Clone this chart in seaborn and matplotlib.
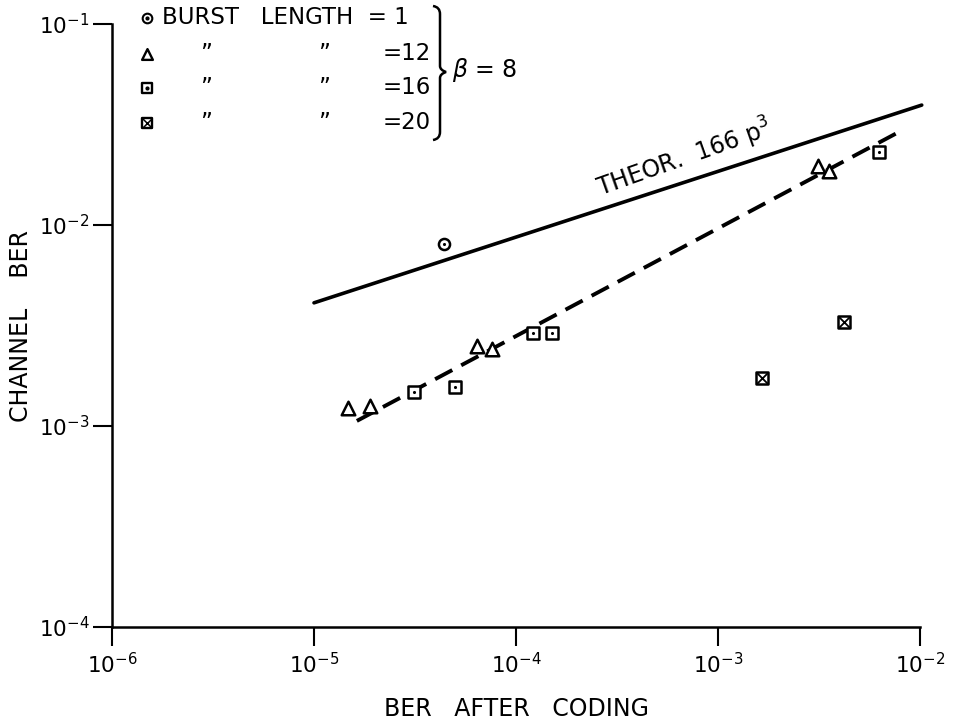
import math
import matplotlib
matplotlib.use("Agg")
import matplotlib.pyplot as plt
from matplotlib.path import Path
from matplotlib.patches import PathPatch
from matplotlib.ticker import FixedLocator, FuncFormatter, NullLocator
import seaborn as sns

# --- data (log-log) ---
burst1_x = [4.4e-5]
burst1_y = [8.0e-3]

burst12_x = [1.47e-5, 1.89e-5, 6.4e-5, 7.6e-5, 3.13e-3, 3.55e-3]
burst12_y = [1.23e-3, 1.26e-3, 2.50e-3, 2.41e-3, 1.97e-2, 1.86e-2]

burst16_x = [3.13e-5, 4.99e-5, 1.21e-4, 1.51e-4, 6.27e-3]
burst16_y = [1.48e-3, 1.56e-3, 2.90e-3, 2.90e-3, 2.31e-2]

burst20_x = [1.65e-3, 4.21e-3]
burst20_y = [1.73e-3, 3.29e-3]

theor_x = [1.0e-5, 1.02e-2]
theor_y = [4.1e-3, 3.95e-2]

fit_x = [1.63e-5, 7.7e-3]
fit_y = [1.06e-3, 2.87e-2]

x_ticks = [1e-6, 1e-5, 1e-4, 1e-3, 1e-2]
y_ticks = [1e-4, 1e-3, 1e-2, 1e-1]

sns.set_style("ticks")
font = ["DejaVu Sans"]
plt.rcParams["font.family"] = font
plt.rcParams["mathtext.fontset"] = "dejavusans"
for k in ["text.color", "axes.labelcolor", "xtick.color", "ytick.color", "axes.edgecolor"]:
    plt.rcParams[k] = "black"

fig = plt.figure(figsize=(9.56, 7.26), dpi=100)
ax = fig.add_axes([112 / 956, 1 - 627 / 726, 808 / 956, 603 / 726])
ax.set_xscale("log")
ax.set_yscale("log")
ax.set_xlim(1e-6, 1e-2)
ax.set_ylim(1e-4, 1e-1)

# lines
sns.lineplot(x=theor_x, y=theor_y, ax=ax, color="black", lw=2.6, clip_on=False)
sns.lineplot(x=fit_x, y=fit_y, ax=ax, color="black", lw=2.8)
ax.lines[-1].set_dashes([5.0, 2.6])

# markers
kw = dict(ax=ax, facecolor="white", edgecolor="black", linewidth=1.8, zorder=5, clip_on=False)
dot = dict(ax=ax, color="black", s=5, zorder=6, linewidth=0, clip_on=False)

sns.scatterplot(x=burst1_x, y=burst1_y, marker="o", s=64, **kw)
sns.scatterplot(x=burst1_x, y=burst1_y, **dot)
sns.scatterplot(x=burst12_x, y=burst12_y, marker="^", s=95, **kw)
sns.scatterplot(x=burst16_x, y=burst16_y, marker="s", s=78, **kw)
sns.scatterplot(x=burst16_x, y=burst16_y, **dot)
sns.scatterplot(x=burst20_x, y=burst20_y, marker="s", s=78, **kw)
ax.scatter(burst20_x, burst20_y, marker="x", s=70, color="black", linewidths=1.3, zorder=6)

# axes styling
sns.despine(ax=ax)
for side in ["left", "bottom"]:
    ax.spines[side].set_linewidth(1.8)
ax.xaxis.set_major_locator(FixedLocator(x_ticks))
ax.yaxis.set_major_locator(FixedLocator(y_ticks))
ax.xaxis.set_minor_locator(NullLocator())
ax.yaxis.set_minor_locator(NullLocator())
fmt = FuncFormatter(lambda v, pos: r"$10^{%d}$" % round(math.log10(v)))
ax.xaxis.set_major_formatter(fmt)
ax.yaxis.set_major_formatter(fmt)
ax.tick_params(axis="both", length=14, width=1.5, labelsize=15.5, pad=2)
ax.tick_params(axis="x", pad=4)

ax.set_xlabel("BER   AFTER   CODING", fontsize=17, labelpad=14)
ax.set_ylabel("CHANNEL    BER", fontsize=17)
ax.yaxis.set_label_coords(-0.098, 0.5)

ax.text(6.8e-4, 2.15e-2, r"THEOR.  166 p$^3$", fontsize=17, rotation=19.5,
        ha="center", va="center", rotation_mode="anchor")

# legend block drawn by hand
rows = [1.01, 0.951, 0.894, 0.836]
sym_x = 0.043
lkw = dict(transform=ax.transAxes, clip_on=False, zorder=5)
ax.scatter([sym_x], [rows[0]], marker="o", s=48, facecolor="white", edgecolor="black",
           linewidth=1.5, **lkw)
ax.scatter([sym_x], [rows[0]], s=4, color="black", **lkw)
ax.scatter([sym_x], [rows[1]], marker="^", s=60, facecolor="white", edgecolor="black",
           linewidth=1.7, **lkw)
ax.scatter([sym_x], [rows[2]], marker="s", s=50, facecolor="white", edgecolor="black",
           linewidth=1.7, **lkw)
ax.scatter([sym_x], [rows[2]], s=4, color="black", **lkw)
ax.scatter([sym_x], [rows[3]], marker="s", s=50, facecolor="white", edgecolor="black",
           linewidth=1.7, **lkw)
ax.scatter([sym_x], [rows[3]], marker="x", s=48, color="black", linewidth=1.1, **lkw)

tkw = dict(transform=ax.transAxes, fontsize=16.5, va="center")
ax.text(0.062, rows[0], "BURST   LENGTH  = 1", ha="left", **tkw)
for r, val in zip(rows[1:], ["=12", "=16", "=20"]):
    ax.text(0.109, r, "\u201d", ha="left", **tkw)
    ax.text(0.255, r, "\u201d", ha="left", **tkw)
    ax.text(0.395, r, val, ha="right", **tkw)

# brace
def px(x, y):
    return (x / 956, 1 - y / 726)

bx, top, mid, bot = 440, 6, 72, 140
verts = [px(bx - 7, top), px(bx, top + 1), px(bx, top + 8),
         px(bx, mid - 6), px(bx, mid - 2), px(bx + 6, mid),
         px(bx, mid + 2), px(bx, mid + 6),
         px(bx, bot - 8), px(bx, bot - 1), px(bx - 7, bot)]
codes = [Path.MOVETO, Path.CURVE3, Path.CURVE3,
         Path.LINETO, Path.CURVE3, Path.CURVE3,
         Path.CURVE3, Path.CURVE3,
         Path.LINETO, Path.CURVE3, Path.CURVE3]
fig.patches.append(PathPatch(Path(verts, codes), transform=fig.transFigure,
                             fill=False, lw=1.8, edgecolor="black"))
fig.text(*px(452, 70), r"$\beta$ = 8", fontsize=17, va="center", ha="left")

fig.savefig("out.png", dpi=100)
